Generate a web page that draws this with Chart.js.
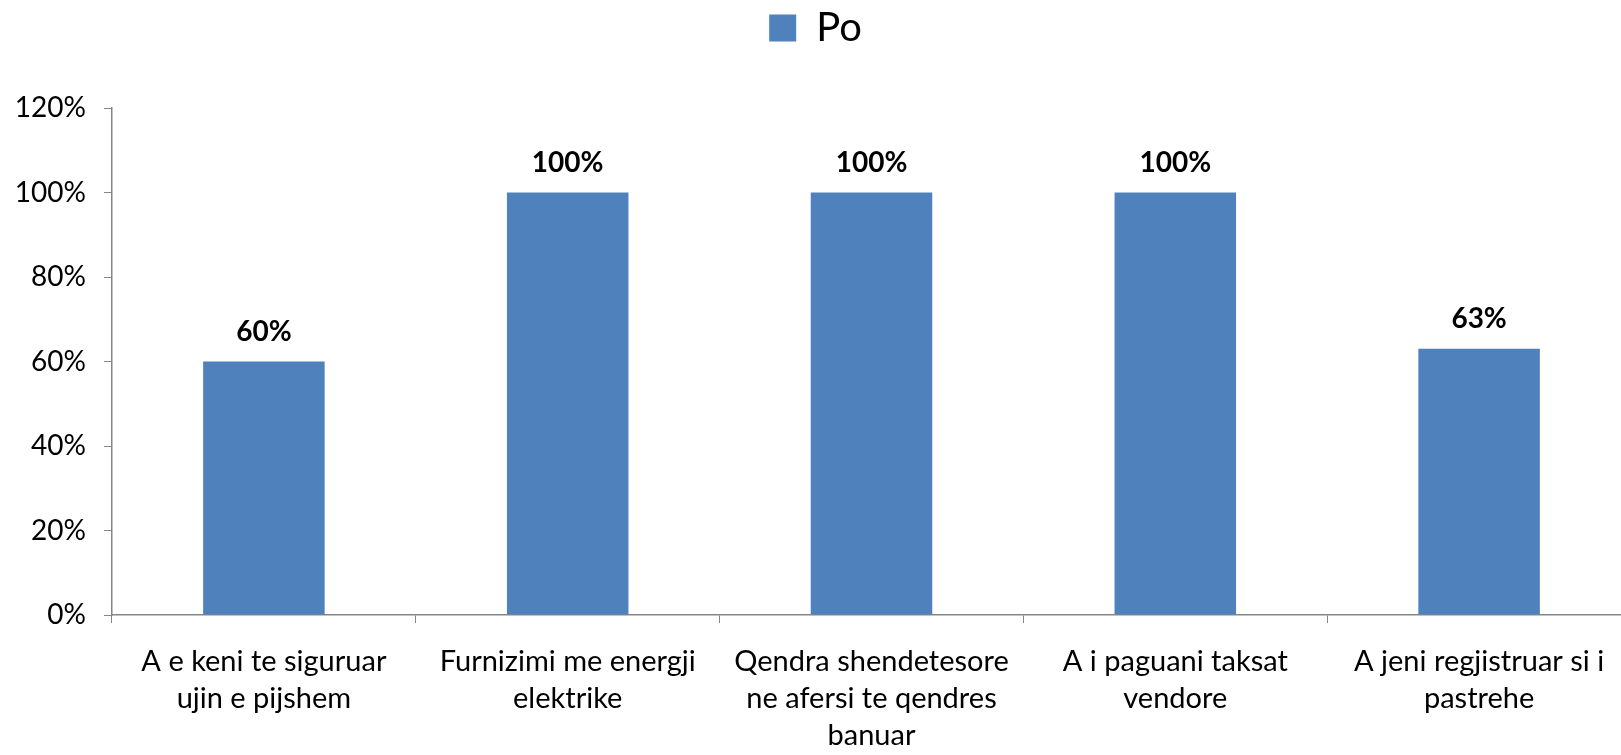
<!DOCTYPE html>
<html>
<head>
<meta charset="utf-8">
<script src="https://cdn.jsdelivr.net/npm/chart.js@4/dist/chart.umd.min.js"></script>
<style>
  html, body { margin: 0; padding: 0; overflow: hidden; background: #fff; }
  #wrap { position: absolute; left: 0; top: 0; width: 1640px; height: 755px; }
</style>
</head>
<body>
<div id="wrap"><canvas id="chart" width="1640" height="755"></canvas></div>
<script>
//-----------------------------------------------------------------------------
// Data
//-----------------------------------------------------------------------------

var seriesName = 'Po';

// each category split into the lines shown under the axis
var categories = [
  ['A e keni te siguruar', 'ujin e pijshem'],
  ['Furnizimi me energji', 'elektrike'],
  ['Qendra shendetesore', 'ne afersi te qendres', 'banuar'],
  ['A i paguani taksat', 'vendore'],
  ['A jeni regjistruar si i', 'pastrehe']
];

var poValues = [0.60, 1.00, 1.00, 1.00, 0.63];

var yMin = 0, yMax = 1.2, yStep = 0.2;

var FONT = 'Lato, "Open Sans", sans-serif';
var AXIS_COLOR = '#868686';

function pct(v) {
  return Math.round(v * 100) + '%';
}

// Value labels above the bars
//-----------------------------------------------------------------------------

var barLabels = {
  id: 'barLabels',
  afterDatasetsDraw: function(chart) {
    var ctx = chart.ctx;
    ctx.save();
    ctx.font = 'bold 28px ' + FONT;
    ctx.fillStyle = '#000';
    ctx.textAlign = 'center';
    ctx.textBaseline = 'middle';
    chart.data.datasets.forEach(function(ds, i) {
      chart.getDatasetMeta(i).data.forEach(function(bar, j) {
        ctx.fillText(pct(ds.data[j]), bar.x, bar.y - 30);
      });
    });
    ctx.restore();
  }
};

// extra gap between the legend and the plot
var legendGap = {
  id: 'legendGap',
  beforeInit: function(chart) {
    var fit = chart.legend.fit;
    chart.legend.fit = function() {
      fit.call(this);
      this.height += 50;
    };
  }
};

// Chart
//-----------------------------------------------------------------------------

new Chart(document.getElementById('chart'), {
  type: 'bar',
  data: {
    labels: categories,
    datasets: [{
      label: seriesName,
      data: poValues,
      backgroundColor: '#4F81BD',
      borderWidth: 0,
      categoryPercentage: 1.0,
      barPercentage: 0.4
    }]
  },
  options: {
    responsive: false,
    animation: false,
    layout: { padding: { top: 4, right: 9, left: 0, bottom: 0 } },
    plugins: {
      tooltip: { enabled: false },
      legend: {
        position: 'top',
        labels: {
          boxWidth: 27,
          boxHeight: 27,
          color: '#000',
          padding: 4,
          font: { family: FONT, size: 40 }
        }
      }
    },
    scales: {
      x: {
        grid: {
          offset: true,
          drawOnChartArea: false,
          tickLength: 8,
          color: AXIS_COLOR
        },
        border: { color: AXIS_COLOR, width: 1.5 },
        ticks: {
          color: '#000',
          padding: 20,
          autoSkip: false,
          maxRotation: 0,
          font: { family: FONT, size: 29, lineHeight: 1.28 }
        },
        afterFit: function(scale) { scale.height = 140; }
      },
      y: {
        min: yMin,
        max: yMax,
        grid: {
          drawOnChartArea: false,
          tickLength: 8,
          color: AXIS_COLOR
        },
        border: { color: AXIS_COLOR, width: 1.5 },
        ticks: {
          stepSize: yStep,
          color: '#000',
          padding: 18,
          font: { family: FONT, size: 28 },
          callback: function(v) { return pct(v); }
        },
        afterFit: function(scale) { scale.width = 112; }
      }
    }
  },
  plugins: [barLabels, legendGap]
});
</script>
</body>
</html>
